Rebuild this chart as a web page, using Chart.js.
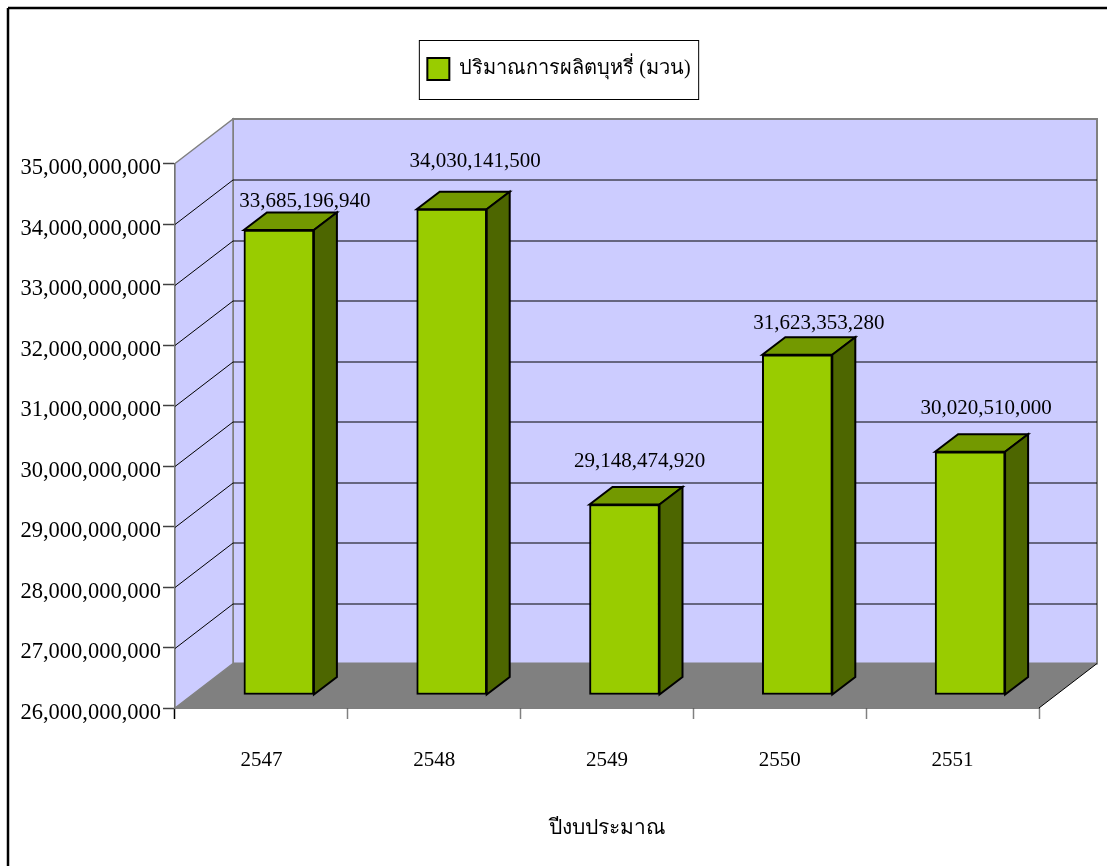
<!DOCTYPE html>
<html lang="th">
	<head>
		<meta charset="UTF-8" />
		<title>ปริมาณการผลิตบุหรี่</title>
		<style>
			body {
				margin: 0;
				background: #fff;
			}
			canvas {
				display: block;
			}
		</style>
		<script src="https://cdn.jsdelivr.net/npm/chart.js"></script>
	</head>
	<body>
		<canvas id="myChart" width="1107" height="866"></canvas>

		<script>
			const years = ['2547', '2548', '2549', '2550', '2551'];
			const amounts = [33685196940, 34030141500, 29148474920, 31623353280, 30020510000];
			const seriesName = 'ปริมาณการผลิตบุหรี่ (มวน)';
			const axisTitle = 'ปีงบประมาณ';
			const axisMin = 26000000000;
			const axisMax = 35000000000;
			const axisStep = 1000000000;

			const fontFamily = '"Liberation Serif", "Noto Sans", serif';

			// 3D look: how far the back wall and the bars sit from the front plane
			const wallDepth = { x: 58, y: 44.5 };
			const barShift = { x: 17.5, y: 13 };
			const barDepth = { x: 23, y: 17.5 };
			// label nudges from the top of each bar, in pixels
			const labelNudgeX = [26, 23.5, 15, 21.5, 16];
			const labelNudgeY = [-29, -48, -43, -31, -43];

			const plotTop = 163.5;
			const layoutTop = 40;
			const rightGap = 67;

			const fmt = (v) => v.toLocaleString('en-US');

			const poly = (ctx, pts, fill, stroke, width) => {
				ctx.beginPath();
				pts.forEach((p, i) => (i ? ctx.lineTo(p[0], p[1]) : ctx.moveTo(p[0], p[1])));
				ctx.closePath();
				ctx.fillStyle = fill;
				ctx.fill();
				if (stroke) {
					ctx.strokeStyle = stroke;
					ctx.lineWidth = width;
					ctx.stroke();
				}
			};

			const line = (ctx, x1, y1, x2, y2, color, width) => {
				ctx.beginPath();
				ctx.moveTo(x1, y1);
				ctx.lineTo(x2, y2);
				ctx.strokeStyle = color;
				ctx.lineWidth = width;
				ctx.stroke();
			};

			const box3d = {
				id: 'box3d',
				install(chart) {
					// empty layout box between the legend and the plot
					Chart.layouts.addBox(chart, {
						position: 'top',
						weight: 0,
						fullSize: true,
						options: {},
						isHorizontal: () => true,
						update(width) {
							this.width = width;
							this.height = plotTop - layoutTop - (chart.legend ? chart.legend.height || 0 : 0);
						},
						draw() {},
					});
					// room for the wall depth on the right, the legend still centres over the full width
					Chart.layouts.addBox(chart, {
						position: 'right',
						weight: 0,
						fullSize: false,
						options: {},
						isHorizontal: () => false,
						update(width, height) {
							this.width = rightGap;
							this.height = height;
						},
						draw() {},
					});
				},
				beforeDraw(chart) {
					const ctx = chart.ctx;
					ctx.save();
					// page frame, top and left only
					line(ctx, 8, 8, 1107, 8, '#000', 2.5);
					line(ctx, 8, 8, 8, 866, '#000', 2.5);
					// legend frame
					const hit = chart.legend.legendHitBoxes[0];
					ctx.strokeStyle = '#000';
					ctx.lineWidth = 1;
					ctx.strokeRect(hit.left - 8, 40.5, hit.width + 16, 59);
					ctx.restore();
				},
				beforeDatasetsDraw(chart) {
					const ctx = chart.ctx;
					const { left, right, top, bottom } = chart.chartArea;
					const dx = wallDepth.x;
					const dy = wallDepth.y;
					ctx.save();
					poly(ctx, [[left + dx, top - dy], [right + dx, top - dy], [right + dx, bottom - dy], [left + dx, bottom - dy]], '#CCCCFF', '#808080', 2);
					poly(ctx, [[left, top], [left + dx, top - dy], [left + dx, bottom - dy], [left, bottom]], '#CCCCFF', '#808080', 1.5);
					poly(ctx, [[left, bottom], [left + dx, bottom - dy], [right + dx, bottom - dy], [right, bottom]], '#808080');
					line(ctx, right, bottom, right + dx, bottom - dy, '#000', 1);

					const yScale = chart.scales.y;
					yScale.ticks.forEach((t, i) => {
						if (i === 0 || i === yScale.ticks.length - 1) return;
						const y = Math.round(yScale.getPixelForValue(t.value)) + 0.5;
						line(ctx, left, y, left + dx, y - dy, '#000', 1);
						line(ctx, left + dx, y - dy, right + dx, y - dy, '#000', 1);
					});
					ctx.restore();
				},
				beforeDatasetDraw(chart, args) {
					const ctx = chart.ctx;
					ctx.save();
					ctx.translate(barShift.x, -barShift.y);
					args.meta.data.forEach((bar) => {
						const l = bar.x - bar.width / 2;
						const r = bar.x + bar.width / 2;
						const dx = barDepth.x;
						const dy = barDepth.y;
						poly(ctx, [[l, bar.y], [l + dx, bar.y - dy], [r + dx, bar.y - dy], [r, bar.y]], '#739900', '#000', 2);
						poly(ctx, [[r, bar.y], [r + dx, bar.y - dy], [r + dx, bar.base - dy], [r, bar.base]], '#4D6600', '#000', 2);
					});
				},
				afterDatasetDraw(chart) {
					chart.ctx.restore();
				},
				afterDatasetsDraw(chart) {
					const ctx = chart.ctx;
					ctx.save();
					ctx.font = '21px ' + fontFamily;
					ctx.fillStyle = '#000';
					ctx.textAlign = 'center';
					ctx.textBaseline = 'middle';
					chart.getDatasetMeta(0).data.forEach((bar, i) => {
						ctx.fillText(fmt(amounts[i]), bar.x + barShift.x + labelNudgeX[i], bar.y - barShift.y + labelNudgeY[i]);
					});
					ctx.restore();
				},
			};

			const ctx = document.getElementById('myChart');

			new Chart(ctx, {
				type: 'bar',
				data: {
					labels: years,
					datasets: [
						{
							label: seriesName,
							data: amounts,
							base: axisMin,
							backgroundColor: '#99CC00',
							borderColor: '#000',
							borderWidth: 2,
							borderSkipped: false,
							barThickness: 70,
							clip: false,
						},
					],
				},
				options: {
					responsive: false,
					animation: false,
					layout: {
						padding: { left: 12, top: layoutTop, right: 1 },
					},
					font: { family: fontFamily },
					plugins: {
						tooltip: { enabled: false },
						legend: {
							position: 'top',
							labels: {
								color: '#000',
								boxWidth: 22,
								boxHeight: 22,
								padding: 18,
								font: { family: fontFamily, size: 20 },
							},
						},
					},
					scales: {
						x: {
							z: 1,
							afterFit: (scale) => {
								scale.height = 158;
							},
							border: { color: '#000', width: 1.5 },
							grid: {
								drawOnChartArea: false,
								tickLength: 11,
								tickWidth: 1.5,
								tickColor: (c) => (c.index === 0 ? '#000' : '#808080'),
							},
							ticks: {
								color: '#000',
								padding: 29,
								maxRotation: 0,
								font: { family: fontFamily, size: 21 },
							},
							title: {
								display: true,
								text: axisTitle,
								color: '#000',
								padding: { bottom: 25 },
								font: { family: fontFamily, size: 21 },
							},
						},
						y: {
							z: 1,
							min: axisMin,
							max: axisMax,
							afterFit: (scale) => {
								scale.width = 163;
							},
							border: { color: '#505050', width: 1.5 },
							grid: {
								drawOnChartArea: false,
								tickLength: 12,
								tickWidth: 1.5,
								tickColor: '#404040',
							},
							ticks: {
								stepSize: axisStep,
								color: '#000',
								padding: 2,
								labelOffset: 5,
								font: { family: fontFamily, size: 22.5 },
								callback: (v) => fmt(v),
							},
						},
					},
				},
				plugins: [box3d],
			});
		</script>
	</body>
</html>
